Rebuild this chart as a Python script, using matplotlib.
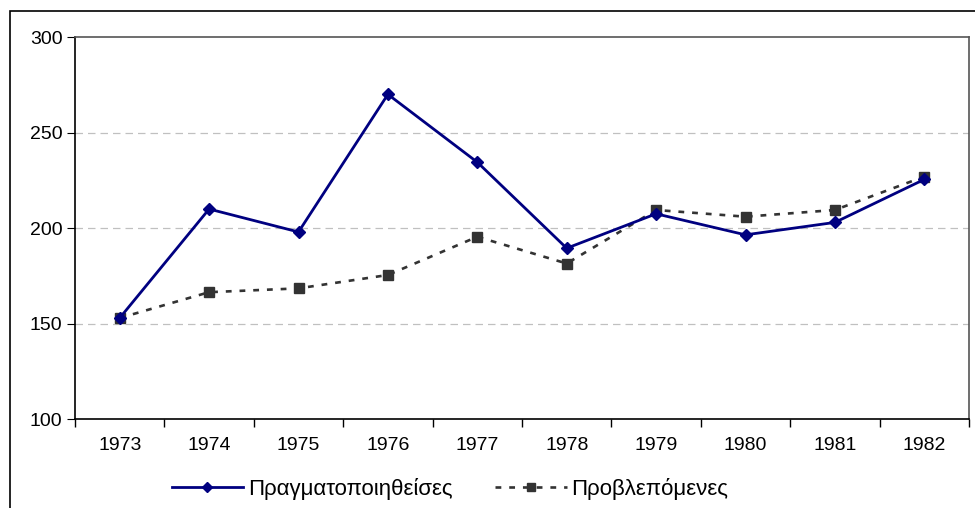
import numpy as np
import matplotlib
matplotlib.use("Agg")
import matplotlib.pyplot as plt
from matplotlib.patches import Rectangle

plt.rcParams['font.family'] = ['Liberation Sans', 'DejaVu Sans']

years = ['1973', '1974', '1975', '1976', '1977', '1978', '1979', '1980', '1981', '1982']
actual = [153, 210, 198, 270, 234.5, 189.5, 207.5, 196.5, 203, 225.5]
forecast = [153, 166.5, 168.5, 175.5, 195.5, 181.5, 209.5, 206, 209.5, 227]
label_actual = 'Πραγματοποιηθείσες'
label_forecast = 'Προβλεπόμενες'

fig = plt.figure(figsize=(9.75, 5.08), dpi=100)
ax = fig.add_axes([75/975, 1 - 419.3/508, (969 - 75)/975, (419.3 - 37)/508])

# outer chart frame (cut off at right/bottom in the original)
fig.patches.append(Rectangle((10/975, -0.1), 1.2, 1.1 - 11/508,
                             transform=fig.transFigure, fill=False,
                             edgecolor='black', linewidth=1.2))

x = np.arange(len(years))
ax.plot(x, forecast, color='#333333', linestyle=(0, (2.2, 3.0)), linewidth=1.9,
        marker='s', markersize=7.5, markerfacecolor='#333333', markeredgecolor='#333333',
        label=label_forecast, zorder=3)
ax.plot(x, actual, color='#000080', linewidth=2.0, marker='D', markersize=6,
        markerfacecolor='#000080', markeredgecolor='#000080',
        label=label_actual, zorder=4)

ax.set_xlim(-0.5, len(years) - 0.5)
ax.set_ylim(100, 300)
ax.set_yticks([100, 150, 200, 250, 300])
ax.set_xticks(x)
ax.set_xticklabels(years)
ax.set_xticks(np.arange(-0.5, len(years)), minor=True)
ax.tick_params(axis='x', which='major', length=0, labelsize=14, pad=13)
ax.tick_params(axis='x', which='minor', length=6, direction='out', width=1)
ax.tick_params(axis='y', length=6, direction='out', labelsize=14, pad=3)

for v in [150, 200, 250]:
    ax.axhline(v, color='#c0c0c0', linestyle=(0, (6, 4)), linewidth=0.9, zorder=1)

for s in ['left', 'bottom']:
    ax.spines[s].set_color('black')
    ax.spines[s].set_linewidth(1.2)
for s in ['top', 'right']:
    ax.spines[s].set_color('#555555')
    ax.spines[s].set_linewidth(1.2)

h, l = ax.get_legend_handles_labels()
fig.legend(h[::-1], l[::-1], loc='center', ncol=2, frameon=False, fontsize=16,
           bbox_to_anchor=(450/975, 1 - 489/508), handlelength=3.2,
           columnspacing=1.95, handletextpad=0.22, markerscale=0.85)

fig.savefig('out.png', dpi=100)
